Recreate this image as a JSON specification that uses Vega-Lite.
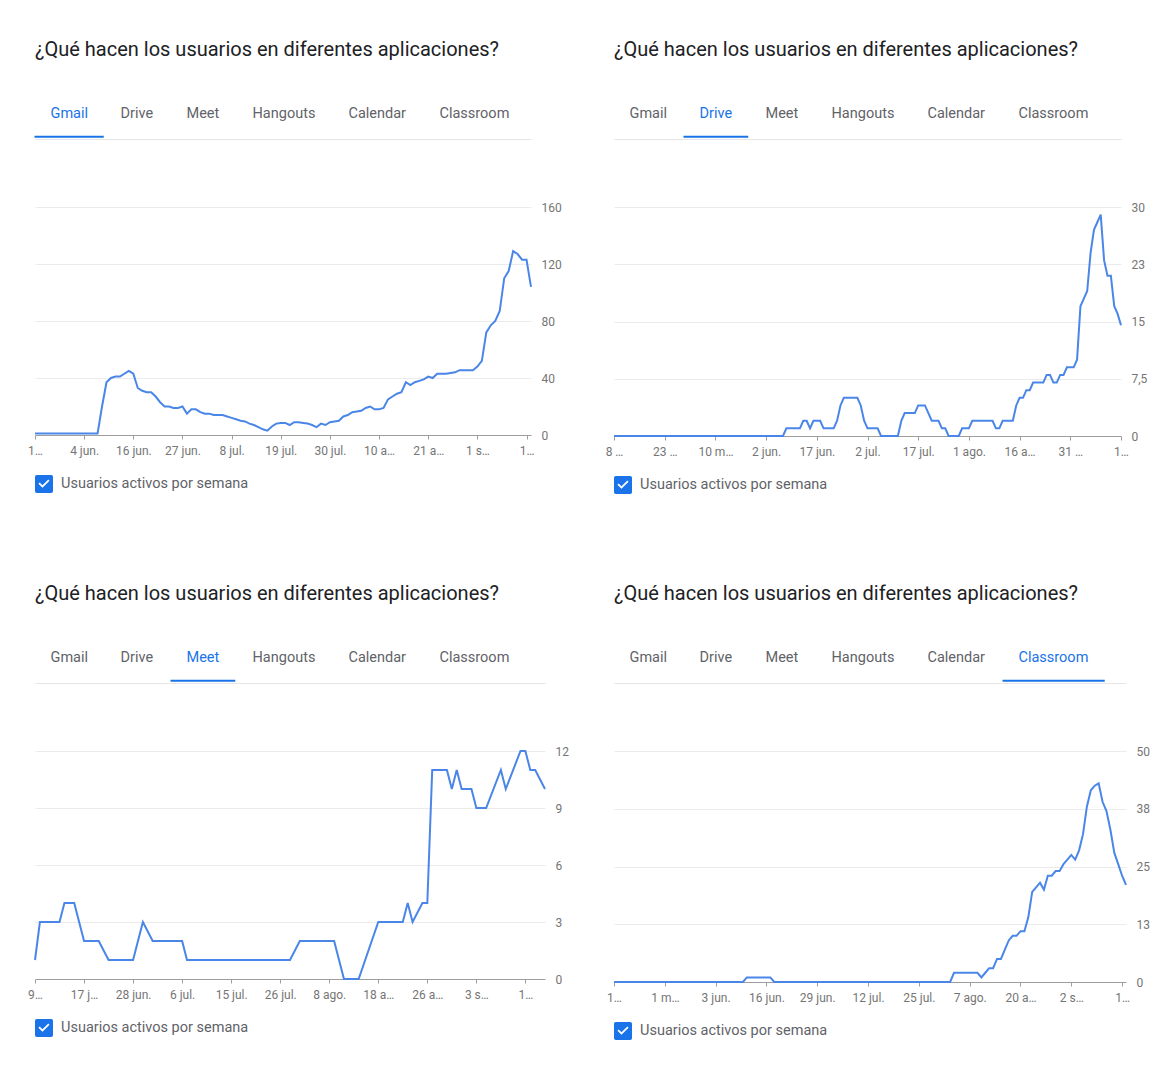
{
  "$schema": "https://vega.github.io/schema/vega-lite/v6.json",
  "background": "white",
  "padding": {"left": 27, "top": 40, "right": 0, "bottom": 0},
  "config": {"view": {"stroke": null}, "font": "Roboto"},
  "datasets": {
    "pestanas": [{"pestana": "Gmail"}, {"pestana": "Drive"}, {"pestana": "Meet"}, {"pestana": "Hangouts"}, {"pestana": "Calendar"}, {"pestana": "Classroom"}],
    "gmail": [
      {"fecha": "2020-05-24", "usuarios": 1}, {"fecha": "2020-06-07", "usuarios": 1}, {"fecha": "2020-06-08", "usuarios": 20}, {"fecha": "2020-06-09", "usuarios": 37},
      {"fecha": "2020-06-10", "usuarios": 40}, {"fecha": "2020-06-11", "usuarios": 41}, {"fecha": "2020-06-12", "usuarios": 41}, {"fecha": "2020-06-13", "usuarios": 43},
      {"fecha": "2020-06-14", "usuarios": 45}, {"fecha": "2020-06-15", "usuarios": 43}, {"fecha": "2020-06-16", "usuarios": 33}, {"fecha": "2020-06-17", "usuarios": 31},
      {"fecha": "2020-06-18", "usuarios": 30}, {"fecha": "2020-06-19", "usuarios": 30}, {"fecha": "2020-06-20", "usuarios": 27}, {"fecha": "2020-06-21", "usuarios": 23},
      {"fecha": "2020-06-22", "usuarios": 20}, {"fecha": "2020-06-23", "usuarios": 20}, {"fecha": "2020-06-24", "usuarios": 19}, {"fecha": "2020-06-25", "usuarios": 19},
      {"fecha": "2020-06-26", "usuarios": 20}, {"fecha": "2020-06-27", "usuarios": 15}, {"fecha": "2020-06-28", "usuarios": 18}, {"fecha": "2020-06-29", "usuarios": 18},
      {"fecha": "2020-06-30", "usuarios": 16}, {"fecha": "2020-07-01", "usuarios": 15}, {"fecha": "2020-07-02", "usuarios": 15}, {"fecha": "2020-07-03", "usuarios": 14},
      {"fecha": "2020-07-05", "usuarios": 14}, {"fecha": "2020-07-06", "usuarios": 13}, {"fecha": "2020-07-07", "usuarios": 12}, {"fecha": "2020-07-08", "usuarios": 11},
      {"fecha": "2020-07-09", "usuarios": 10}, {"fecha": "2020-07-10", "usuarios": 9.5}, {"fecha": "2020-07-11", "usuarios": 8}, {"fecha": "2020-07-12", "usuarios": 7},
      {"fecha": "2020-07-13", "usuarios": 5.5}, {"fecha": "2020-07-14", "usuarios": 4}, {"fecha": "2020-07-15", "usuarios": 3}, {"fecha": "2020-07-16", "usuarios": 6},
      {"fecha": "2020-07-17", "usuarios": 8}, {"fecha": "2020-07-18", "usuarios": 8.5}, {"fecha": "2020-07-19", "usuarios": 8.5}, {"fecha": "2020-07-20", "usuarios": 7},
      {"fecha": "2020-07-21", "usuarios": 9}, {"fecha": "2020-07-22", "usuarios": 9}, {"fecha": "2020-07-23", "usuarios": 8.5}, {"fecha": "2020-07-24", "usuarios": 8},
      {"fecha": "2020-07-25", "usuarios": 7}, {"fecha": "2020-07-26", "usuarios": 5.5}, {"fecha": "2020-07-27", "usuarios": 8}, {"fecha": "2020-07-28", "usuarios": 7},
      {"fecha": "2020-07-29", "usuarios": 9}, {"fecha": "2020-07-30", "usuarios": 9.5}, {"fecha": "2020-07-31", "usuarios": 10}, {"fecha": "2020-08-01", "usuarios": 13},
      {"fecha": "2020-08-02", "usuarios": 14}, {"fecha": "2020-08-03", "usuarios": 16}, {"fecha": "2020-08-04", "usuarios": 16.5}, {"fecha": "2020-08-05", "usuarios": 17},
      {"fecha": "2020-08-06", "usuarios": 19}, {"fecha": "2020-08-07", "usuarios": 20}, {"fecha": "2020-08-08", "usuarios": 18}, {"fecha": "2020-08-09", "usuarios": 18},
      {"fecha": "2020-08-10", "usuarios": 19}, {"fecha": "2020-08-11", "usuarios": 25}, {"fecha": "2020-08-12", "usuarios": 27}, {"fecha": "2020-08-13", "usuarios": 29},
      {"fecha": "2020-08-14", "usuarios": 30}, {"fecha": "2020-08-15", "usuarios": 37}, {"fecha": "2020-08-16", "usuarios": 35}, {"fecha": "2020-08-17", "usuarios": 37},
      {"fecha": "2020-08-18", "usuarios": 38}, {"fecha": "2020-08-19", "usuarios": 39}, {"fecha": "2020-08-20", "usuarios": 41}, {"fecha": "2020-08-21", "usuarios": 40},
      {"fecha": "2020-08-22", "usuarios": 43}, {"fecha": "2020-08-24", "usuarios": 43}, {"fecha": "2020-08-25", "usuarios": 43.5}, {"fecha": "2020-08-26", "usuarios": 44},
      {"fecha": "2020-08-27", "usuarios": 45.5}, {"fecha": "2020-08-30", "usuarios": 45.5}, {"fecha": "2020-08-31", "usuarios": 48}, {"fecha": "2020-09-01", "usuarios": 52},
      {"fecha": "2020-09-02", "usuarios": 72}, {"fecha": "2020-09-03", "usuarios": 77}, {"fecha": "2020-09-04", "usuarios": 80}, {"fecha": "2020-09-05", "usuarios": 87},
      {"fecha": "2020-09-06", "usuarios": 110}, {"fecha": "2020-09-07", "usuarios": 115}, {"fecha": "2020-09-08", "usuarios": 129}, {"fecha": "2020-09-09", "usuarios": 127},
      {"fecha": "2020-09-10", "usuarios": 123}, {"fecha": "2020-09-11", "usuarios": 123}, {"fecha": "2020-09-12", "usuarios": 104}
    ],
    "drive": [
      {"fecha": "2020-04-18", "usuarios": 0}, {"fecha": "2020-06-07", "usuarios": 0}, {"fecha": "2020-06-08", "usuarios": 1}, {"fecha": "2020-06-12", "usuarios": 1},
      {"fecha": "2020-06-13", "usuarios": 2}, {"fecha": "2020-06-14", "usuarios": 2}, {"fecha": "2020-06-15", "usuarios": 1}, {"fecha": "2020-06-16", "usuarios": 2},
      {"fecha": "2020-06-18", "usuarios": 2}, {"fecha": "2020-06-19", "usuarios": 1}, {"fecha": "2020-06-22", "usuarios": 1}, {"fecha": "2020-06-23", "usuarios": 2},
      {"fecha": "2020-06-24", "usuarios": 4}, {"fecha": "2020-06-25", "usuarios": 5}, {"fecha": "2020-06-29", "usuarios": 5}, {"fecha": "2020-06-30", "usuarios": 4},
      {"fecha": "2020-07-01", "usuarios": 2}, {"fecha": "2020-07-02", "usuarios": 1}, {"fecha": "2020-07-05", "usuarios": 1}, {"fecha": "2020-07-06", "usuarios": 0},
      {"fecha": "2020-07-11", "usuarios": 0}, {"fecha": "2020-07-12", "usuarios": 2}, {"fecha": "2020-07-13", "usuarios": 3}, {"fecha": "2020-07-16", "usuarios": 3},
      {"fecha": "2020-07-17", "usuarios": 4}, {"fecha": "2020-07-19", "usuarios": 4}, {"fecha": "2020-07-21", "usuarios": 2}, {"fecha": "2020-07-23", "usuarios": 2},
      {"fecha": "2020-07-24", "usuarios": 1}, {"fecha": "2020-07-25", "usuarios": 1}, {"fecha": "2020-07-26", "usuarios": 0}, {"fecha": "2020-07-29", "usuarios": 0},
      {"fecha": "2020-07-30", "usuarios": 1}, {"fecha": "2020-08-01", "usuarios": 1}, {"fecha": "2020-08-02", "usuarios": 2}, {"fecha": "2020-08-08", "usuarios": 2},
      {"fecha": "2020-08-09", "usuarios": 1}, {"fecha": "2020-08-10", "usuarios": 1}, {"fecha": "2020-08-11", "usuarios": 2}, {"fecha": "2020-08-14", "usuarios": 2},
      {"fecha": "2020-08-15", "usuarios": 4}, {"fecha": "2020-08-16", "usuarios": 5}, {"fecha": "2020-08-17", "usuarios": 5}, {"fecha": "2020-08-18", "usuarios": 6},
      {"fecha": "2020-08-19", "usuarios": 6}, {"fecha": "2020-08-20", "usuarios": 7}, {"fecha": "2020-08-23", "usuarios": 7}, {"fecha": "2020-08-24", "usuarios": 8},
      {"fecha": "2020-08-25", "usuarios": 8}, {"fecha": "2020-08-26", "usuarios": 7}, {"fecha": "2020-08-27", "usuarios": 7}, {"fecha": "2020-08-28", "usuarios": 8},
      {"fecha": "2020-08-29", "usuarios": 8}, {"fecha": "2020-08-30", "usuarios": 9}, {"fecha": "2020-09-01", "usuarios": 9}, {"fecha": "2020-09-02", "usuarios": 10},
      {"fecha": "2020-09-03", "usuarios": 17}, {"fecha": "2020-09-04", "usuarios": 18}, {"fecha": "2020-09-05", "usuarios": 19}, {"fecha": "2020-09-06", "usuarios": 24},
      {"fecha": "2020-09-07", "usuarios": 27}, {"fecha": "2020-09-08", "usuarios": 28}, {"fecha": "2020-09-09", "usuarios": 29}, {"fecha": "2020-09-10", "usuarios": 23},
      {"fecha": "2020-09-11", "usuarios": 21}, {"fecha": "2020-09-12", "usuarios": 21}, {"fecha": "2020-09-13", "usuarios": 17}, {"fecha": "2020-09-14", "usuarios": 16},
      {"fecha": "2020-09-15", "usuarios": 14.5}
    ],
    "meet": [
      {"fecha": "2020-06-09", "usuarios": 1}, {"fecha": "2020-06-10", "usuarios": 3}, {"fecha": "2020-06-14", "usuarios": 3}, {"fecha": "2020-06-15", "usuarios": 4},
      {"fecha": "2020-06-17", "usuarios": 4}, {"fecha": "2020-06-19", "usuarios": 2}, {"fecha": "2020-06-22", "usuarios": 2}, {"fecha": "2020-06-24", "usuarios": 1},
      {"fecha": "2020-06-29", "usuarios": 1}, {"fecha": "2020-07-01", "usuarios": 3}, {"fecha": "2020-07-03", "usuarios": 2}, {"fecha": "2020-07-09", "usuarios": 2},
      {"fecha": "2020-07-10", "usuarios": 1}, {"fecha": "2020-07-31", "usuarios": 1}, {"fecha": "2020-08-02", "usuarios": 2}, {"fecha": "2020-08-09", "usuarios": 2},
      {"fecha": "2020-08-11", "usuarios": 0}, {"fecha": "2020-08-14", "usuarios": 0}, {"fecha": "2020-08-18", "usuarios": 3}, {"fecha": "2020-08-23", "usuarios": 3},
      {"fecha": "2020-08-24", "usuarios": 4}, {"fecha": "2020-08-25", "usuarios": 3}, {"fecha": "2020-08-27", "usuarios": 4}, {"fecha": "2020-08-28", "usuarios": 4},
      {"fecha": "2020-08-29", "usuarios": 11}, {"fecha": "2020-09-01", "usuarios": 11}, {"fecha": "2020-09-02", "usuarios": 10}, {"fecha": "2020-09-03", "usuarios": 11},
      {"fecha": "2020-09-04", "usuarios": 10}, {"fecha": "2020-09-06", "usuarios": 10}, {"fecha": "2020-09-07", "usuarios": 9}, {"fecha": "2020-09-09", "usuarios": 9},
      {"fecha": "2020-09-12", "usuarios": 11}, {"fecha": "2020-09-13", "usuarios": 10}, {"fecha": "2020-09-16", "usuarios": 12}, {"fecha": "2020-09-17", "usuarios": 12},
      {"fecha": "2020-09-18", "usuarios": 11}, {"fecha": "2020-09-19", "usuarios": 11}, {"fecha": "2020-09-21", "usuarios": 10}
    ],
    "classroom": [
      {"fecha": "2020-05-08", "usuarios": 0}, {"fecha": "2020-06-10", "usuarios": 0}, {"fecha": "2020-06-11", "usuarios": 1}, {"fecha": "2020-06-17", "usuarios": 1},
      {"fecha": "2020-06-18", "usuarios": 0}, {"fecha": "2020-08-02", "usuarios": 0}, {"fecha": "2020-08-03", "usuarios": 2}, {"fecha": "2020-08-09", "usuarios": 2},
      {"fecha": "2020-08-10", "usuarios": 1}, {"fecha": "2020-08-11", "usuarios": 2}, {"fecha": "2020-08-12", "usuarios": 3}, {"fecha": "2020-08-13", "usuarios": 3},
      {"fecha": "2020-08-14", "usuarios": 5}, {"fecha": "2020-08-15", "usuarios": 5}, {"fecha": "2020-08-16", "usuarios": 7}, {"fecha": "2020-08-17", "usuarios": 9},
      {"fecha": "2020-08-18", "usuarios": 10}, {"fecha": "2020-08-19", "usuarios": 10}, {"fecha": "2020-08-20", "usuarios": 11}, {"fecha": "2020-08-21", "usuarios": 11},
      {"fecha": "2020-08-22", "usuarios": 14}, {"fecha": "2020-08-23", "usuarios": 19.5}, {"fecha": "2020-08-24", "usuarios": 20.5}, {"fecha": "2020-08-25", "usuarios": 21.5},
      {"fecha": "2020-08-26", "usuarios": 20}, {"fecha": "2020-08-27", "usuarios": 23}, {"fecha": "2020-08-28", "usuarios": 23}, {"fecha": "2020-08-29", "usuarios": 24},
      {"fecha": "2020-08-30", "usuarios": 24}, {"fecha": "2020-08-31", "usuarios": 25.5}, {"fecha": "2020-09-01", "usuarios": 26.5}, {"fecha": "2020-09-02", "usuarios": 27.5},
      {"fecha": "2020-09-03", "usuarios": 26.5}, {"fecha": "2020-09-04", "usuarios": 28.5}, {"fecha": "2020-09-05", "usuarios": 32}, {"fecha": "2020-09-06", "usuarios": 38},
      {"fecha": "2020-09-07", "usuarios": 41.5}, {"fecha": "2020-09-08", "usuarios": 42.5}, {"fecha": "2020-09-09", "usuarios": 43}, {"fecha": "2020-09-10", "usuarios": 39},
      {"fecha": "2020-09-11", "usuarios": 37}, {"fecha": "2020-09-12", "usuarios": 33}, {"fecha": "2020-09-13", "usuarios": 28}, {"fecha": "2020-09-14", "usuarios": 25.5},
      {"fecha": "2020-09-15", "usuarios": 23}, {"fecha": "2020-09-16", "usuarios": 21}
    ]
  },
  "columns": 2,
  "spacing": {"row": 90, "column": 36},
  "resolve": {"scale": {"color": "independent", "shape": "independent", "x": "independent", "y": "independent"}, "legend": {"color": "independent", "shape": "independent"}},
  "concat": [
    {
      "title": {"text": "¿Qué hacen los usuarios en diferentes aplicaciones?", "anchor": "start", "frame": "group", "fontSize": 20, "fontWeight": 400, "font": "Roboto", "color": "#202124", "offset": 46},
      "width": 496, "height": 228,
      "resolve": {"axis": {"x": "independent"}},
      "layer": [
        {
          "data": {"name": "pestanas"},
          "mark": {"type": "point", "opacity": 0, "filled": true, "color": "#1a73e8"},
          "encoding": {"shape": {"field": "pestana", "type": "nominal",
            "scale": {"domain": ["Gmail", "Drive", "Meet", "Hangouts", "Calendar", "Classroom"], "range": ["M-7.75,22H61.5V24H-7.75Z", "M-7.75,22H57V24H-7.75Z", "M-7.75,22H57V24H-7.75Z", "M-7.75,22H87V24H-7.75Z", "M-7.75,22H82V24H-7.75Z", "M-7.75,22H94.5V24H-7.75Z"]},
            "legend": {"orient": "top", "direction": "horizontal", "title": null, "offset": 1, "padding": 0, "symbolSize": 4, "symbolStrokeWidth": 0, "symbolFillColor": "#1a73e8", "symbolOpacity": {"expr": "datum.value === 'Gmail' ? 1 : 0"}, "labelOffset": 1, "columnPadding": 0, "labelFontSize": 14.5, "labelFont": "Roboto", "labelColor": {"expr": "datum.value === 'Gmail' ? '#1a73e8' : '#5f6368'"}, "labelLimit": 300}}}
        },
        {
          "data": {"name": "gmail"},
          "mark": {"type": "line", "strokeWidth": 2, "color": "#4a86e8"},
          "encoding": {
            "x": {"field": "fecha", "type": "temporal", "axis": {"orient": "bottom", "title": null, "grid": false, "domainColor": "#9e9e9e", "tickColor": "#9e9e9e", "tickSize": 4, "labelFontSize": 12, "labelColor": "#757575", "labelPadding": 6, "labelOverlap": false, "labelFlush": false, "labelBound": false,
              "values": [{"year": 2020, "month": 5, "date": 24, "utc": true}, {"year": 2020, "month": 6, "date": 4, "utc": true}, {"year": 2020, "month": 6, "date": 15, "utc": true}, {"year": 2020, "month": 6, "date": 26, "utc": true}, {"year": 2020, "month": 7, "date": 7, "utc": true}, {"year": 2020, "month": 7, "date": 18, "utc": true}, {"year": 2020, "month": 7, "date": 29, "utc": true}, {"year": 2020, "month": 8, "date": 9, "utc": true}, {"year": 2020, "month": 8, "date": 20, "utc": true}, {"year": 2020, "month": 8, "date": 31, "utc": true}, {"year": 2020, "month": 9, "date": 11, "utc": true}],
              "labelExpr": "['1…','4 jun.','16 jun.','27 jun.','8 jul.','19 jul.','30 jul.','10 a…','21 a…','1 s…','1…'][indexof(['05-24','06-04','06-15','06-26','07-07','07-18','07-29','08-09','08-20','08-31','09-11'], utcFormat(datum.value, '%m-%d'))]"}},
            "y": {"field": "usuarios", "type": "quantitative", "scale": {"domain": [0, 160], "nice": false}, "axis": {"orient": "right", "title": null, "values": [0, 40, 80, 120, 160], "grid": true, "gridColor": "#ebebeb", "domain": false, "ticks": false, "labelFontSize": 12, "labelColor": "#757575", "labelPadding": 10}}
          }
        },
        {
          "data": {"name": "gmail"},
          "mark": {"type": "point", "filled": true, "opacity": 0},
          "encoding": {
            "x": {"field": "fecha", "type": "temporal", "axis": {"orient": "top", "offset": 68, "title": null, "labels": false, "ticks": false, "grid": false, "domainColor": "#e6e6e6"}},
            "y": {"field": "usuarios", "type": "quantitative"},
            "color": {"datum": "Usuarios activos por semana", "type": "nominal", "scale": {"range": ["#1a73e8"]},
              "legend": {"orient": "bottom", "direction": "horizontal", "title": null, "offset": 19, "padding": 0, "symbolType": "M-1,-0.8Q-1,-1,-0.8,-1H0.8Q1,-1,1,-0.8V0.8Q1,1,0.8,1H-0.8Q-1,1,-1,0.8ZM-0.62,-0.02L-0.17,0.43L0.62,-0.36L0.48,-0.5L-0.17,0.15L-0.48,-0.16Z", "symbolSize": 324, "symbolStrokeWidth": 0, "symbolOpacity": 1, "labelFontSize": 14.5, "labelFont": "Roboto", "labelColor": "#5f6368", "labelOffset": 8, "labelLimit": 400}}
          }
        }
      ]
    },
    {
      "title": {"text": "¿Qué hacen los usuarios en diferentes aplicaciones?", "anchor": "start", "frame": "group", "fontSize": 20, "fontWeight": 400, "font": "Roboto", "color": "#202124", "offset": 46},
      "width": 507, "height": 229,
      "resolve": {"axis": {"x": "independent"}},
      "layer": [
        {
          "data": {"name": "pestanas"},
          "mark": {"type": "point", "opacity": 0, "filled": true, "color": "#1a73e8"},
          "encoding": {"shape": {"field": "pestana", "type": "nominal",
            "scale": {"domain": ["Gmail", "Drive", "Meet", "Hangouts", "Calendar", "Classroom"], "range": ["M-7.75,22H61.5V24H-7.75Z", "M-7.75,22H57V24H-7.75Z", "M-7.75,22H57V24H-7.75Z", "M-7.75,22H87V24H-7.75Z", "M-7.75,22H82V24H-7.75Z", "M-7.75,22H94.5V24H-7.75Z"]},
            "legend": {"orient": "top", "direction": "horizontal", "title": null, "offset": 1, "padding": 0, "symbolSize": 4, "symbolStrokeWidth": 0, "symbolFillColor": "#1a73e8", "symbolOpacity": {"expr": "datum.value === 'Drive' ? 1 : 0"}, "labelOffset": 1, "columnPadding": 0, "labelFontSize": 14.5, "labelFont": "Roboto", "labelColor": {"expr": "datum.value === 'Drive' ? '#1a73e8' : '#5f6368'"}, "labelLimit": 300}}}
        },
        {
          "data": {"name": "drive"},
          "mark": {"type": "line", "strokeWidth": 2, "color": "#4a86e8"},
          "encoding": {
            "x": {"field": "fecha", "type": "temporal", "axis": {"orient": "bottom", "title": null, "grid": false, "domainColor": "#9e9e9e", "tickColor": "#9e9e9e", "tickSize": 4, "labelFontSize": 12, "labelColor": "#757575", "labelPadding": 6, "labelOverlap": false, "labelFlush": false, "labelBound": false,
              "values": [{"year": 2020, "month": 4, "date": 18, "utc": true}, {"year": 2020, "month": 5, "date": 3, "utc": true}, {"year": 2020, "month": 5, "date": 18, "utc": true}, {"year": 2020, "month": 6, "date": 2, "utc": true}, {"year": 2020, "month": 6, "date": 17, "utc": true}, {"year": 2020, "month": 7, "date": 2, "utc": true}, {"year": 2020, "month": 7, "date": 17, "utc": true}, {"year": 2020, "month": 8, "date": 1, "utc": true}, {"year": 2020, "month": 8, "date": 16, "utc": true}, {"year": 2020, "month": 8, "date": 31, "utc": true}, {"year": 2020, "month": 9, "date": 15, "utc": true}],
              "labelExpr": "['8 …','23 …','10 m…','2 jun.','17 jun.','2 jul.','17 jul.','1 ago.','16 a…','31 …','1…'][indexof(['04-18','05-03','05-18','06-02','06-17','07-02','07-17','08-01','08-16','08-31','09-15'], utcFormat(datum.value, '%m-%d'))]"}},
            "y": {"field": "usuarios", "type": "quantitative", "scale": {"domain": [0, 30], "nice": false}, "axis": {"orient": "right", "title": null, "values": [0, 7.5, 15, 22.5, 30], "labelExpr": "datum.value == 7.5 ? '7,5' : '' + round(datum.value)", "grid": true, "gridColor": "#ebebeb", "domain": false, "ticks": false, "labelFontSize": 12, "labelColor": "#757575", "labelPadding": 10}}
          }
        },
        {
          "data": {"name": "drive"},
          "mark": {"type": "point", "filled": true, "opacity": 0},
          "encoding": {
            "x": {"field": "fecha", "type": "temporal", "axis": {"orient": "top", "offset": 68, "title": null, "labels": false, "ticks": false, "grid": false, "domainColor": "#e6e6e6"}},
            "y": {"field": "usuarios", "type": "quantitative"},
            "color": {"datum": "Usuarios activos por semana", "type": "nominal", "scale": {"range": ["#1a73e8"]},
              "legend": {"orient": "bottom", "direction": "horizontal", "title": null, "offset": 19, "padding": 0, "symbolType": "M-1,-0.8Q-1,-1,-0.8,-1H0.8Q1,-1,1,-0.8V0.8Q1,1,0.8,1H-0.8Q-1,1,-1,0.8ZM-0.62,-0.02L-0.17,0.43L0.62,-0.36L0.48,-0.5L-0.17,0.15L-0.48,-0.16Z", "symbolSize": 324, "symbolStrokeWidth": 0, "symbolOpacity": 1, "labelFontSize": 14.5, "labelFont": "Roboto", "labelColor": "#5f6368", "labelOffset": 8, "labelLimit": 400}}
          }
        }
      ]
    },
    {
      "title": {"text": "¿Qué hacen los usuarios en diferentes aplicaciones?", "anchor": "start", "frame": "group", "fontSize": 20, "fontWeight": 400, "font": "Roboto", "color": "#202124", "offset": 46},
      "width": 510, "height": 228,
      "resolve": {"axis": {"x": "independent"}},
      "layer": [
        {
          "data": {"name": "pestanas"},
          "mark": {"type": "point", "opacity": 0, "filled": true, "color": "#1a73e8"},
          "encoding": {"shape": {"field": "pestana", "type": "nominal",
            "scale": {"domain": ["Gmail", "Drive", "Meet", "Hangouts", "Calendar", "Classroom"], "range": ["M-7.75,22H61.5V24H-7.75Z", "M-7.75,22H57V24H-7.75Z", "M-7.75,22H57V24H-7.75Z", "M-7.75,22H87V24H-7.75Z", "M-7.75,22H82V24H-7.75Z", "M-7.75,22H94.5V24H-7.75Z"]},
            "legend": {"orient": "top", "direction": "horizontal", "title": null, "offset": 1, "padding": 0, "symbolSize": 4, "symbolStrokeWidth": 0, "symbolFillColor": "#1a73e8", "symbolOpacity": {"expr": "datum.value === 'Meet' ? 1 : 0"}, "labelOffset": 1, "columnPadding": 0, "labelFontSize": 14.5, "labelFont": "Roboto", "labelColor": {"expr": "datum.value === 'Meet' ? '#1a73e8' : '#5f6368'"}, "labelLimit": 300}}}
        },
        {
          "data": {"name": "meet"},
          "mark": {"type": "line", "strokeWidth": 2, "color": "#4a86e8"},
          "encoding": {
            "x": {"field": "fecha", "type": "temporal", "axis": {"orient": "bottom", "title": null, "grid": false, "domainColor": "#9e9e9e", "tickColor": "#9e9e9e", "tickSize": 4, "labelFontSize": 12, "labelColor": "#757575", "labelPadding": 6, "labelOverlap": false, "labelFlush": false, "labelBound": false,
              "values": [{"year": 2020, "month": 6, "date": 9, "utc": true}, {"year": 2020, "month": 6, "date": 19, "utc": true}, {"year": 2020, "month": 6, "date": 29, "utc": true}, {"year": 2020, "month": 7, "date": 9, "utc": true}, {"year": 2020, "month": 7, "date": 19, "utc": true}, {"year": 2020, "month": 7, "date": 29, "utc": true}, {"year": 2020, "month": 8, "date": 8, "utc": true}, {"year": 2020, "month": 8, "date": 18, "utc": true}, {"year": 2020, "month": 8, "date": 28, "utc": true}, {"year": 2020, "month": 9, "date": 7, "utc": true}, {"year": 2020, "month": 9, "date": 17, "utc": true}],
              "labelExpr": "['9…','17 j…','28 jun.','6 jul.','15 jul.','26 jul.','8 ago.','18 a…','26 a…','3 s…','1…'][indexof(['06-09','06-19','06-29','07-09','07-19','07-29','08-08','08-18','08-28','09-07','09-17'], utcFormat(datum.value, '%m-%d'))]"}},
            "y": {"field": "usuarios", "type": "quantitative", "scale": {"domain": [0, 12], "nice": false}, "axis": {"orient": "right", "title": null, "values": [0, 3, 6, 9, 12], "grid": true, "gridColor": "#ebebeb", "domain": false, "ticks": false, "labelFontSize": 12, "labelColor": "#757575", "labelPadding": 10}}
          }
        },
        {
          "data": {"name": "meet"},
          "mark": {"type": "point", "filled": true, "opacity": 0},
          "encoding": {
            "x": {"field": "fecha", "type": "temporal", "axis": {"orient": "top", "offset": 68, "title": null, "labels": false, "ticks": false, "grid": false, "domainColor": "#e6e6e6"}},
            "y": {"field": "usuarios", "type": "quantitative"},
            "color": {"datum": "Usuarios activos por semana", "type": "nominal", "scale": {"range": ["#1a73e8"]},
              "legend": {"orient": "bottom", "direction": "horizontal", "title": null, "offset": 19, "padding": 0, "symbolType": "M-1,-0.8Q-1,-1,-0.8,-1H0.8Q1,-1,1,-0.8V0.8Q1,1,0.8,1H-0.8Q-1,1,-1,0.8ZM-0.62,-0.02L-0.17,0.43L0.62,-0.36L0.48,-0.5L-0.17,0.15L-0.48,-0.16Z", "symbolSize": 324, "symbolStrokeWidth": 0, "symbolOpacity": 1, "labelFontSize": 14.5, "labelFont": "Roboto", "labelColor": "#5f6368", "labelOffset": 8, "labelLimit": 400}}
          }
        }
      ]
    },
    {
      "title": {"text": "¿Qué hacen los usuarios en diferentes aplicaciones?", "anchor": "start", "frame": "group", "fontSize": 20, "fontWeight": 400, "font": "Roboto", "color": "#202124", "offset": 46},
      "width": 512, "height": 231,
      "resolve": {"axis": {"x": "independent"}},
      "layer": [
        {
          "data": {"name": "pestanas"},
          "mark": {"type": "point", "opacity": 0, "filled": true, "color": "#1a73e8"},
          "encoding": {"shape": {"field": "pestana", "type": "nominal",
            "scale": {"domain": ["Gmail", "Drive", "Meet", "Hangouts", "Calendar", "Classroom"], "range": ["M-7.75,22H61.5V24H-7.75Z", "M-7.75,22H57V24H-7.75Z", "M-7.75,22H57V24H-7.75Z", "M-7.75,22H87V24H-7.75Z", "M-7.75,22H82V24H-7.75Z", "M-7.75,22H94.5V24H-7.75Z"]},
            "legend": {"orient": "top", "direction": "horizontal", "title": null, "offset": 1, "padding": 0, "symbolSize": 4, "symbolStrokeWidth": 0, "symbolFillColor": "#1a73e8", "symbolOpacity": {"expr": "datum.value === 'Classroom' ? 1 : 0"}, "labelOffset": 1, "columnPadding": 0, "labelFontSize": 14.5, "labelFont": "Roboto", "labelColor": {"expr": "datum.value === 'Classroom' ? '#1a73e8' : '#5f6368'"}, "labelLimit": 300}}}
        },
        {
          "data": {"name": "classroom"},
          "mark": {"type": "line", "strokeWidth": 2, "color": "#4a86e8"},
          "encoding": {
            "x": {"field": "fecha", "type": "temporal", "axis": {"orient": "bottom", "title": null, "grid": false, "domainColor": "#9e9e9e", "tickColor": "#9e9e9e", "tickSize": 4, "labelFontSize": 12, "labelColor": "#757575", "labelPadding": 6, "labelOverlap": false, "labelFlush": false, "labelBound": false,
              "values": [{"year": 2020, "month": 5, "date": 8, "utc": true}, {"year": 2020, "month": 5, "date": 21, "utc": true}, {"year": 2020, "month": 6, "date": 3, "utc": true}, {"year": 2020, "month": 6, "date": 16, "utc": true}, {"year": 2020, "month": 6, "date": 29, "utc": true}, {"year": 2020, "month": 7, "date": 12, "utc": true}, {"year": 2020, "month": 7, "date": 25, "utc": true}, {"year": 2020, "month": 8, "date": 7, "utc": true}, {"year": 2020, "month": 8, "date": 20, "utc": true}, {"year": 2020, "month": 9, "date": 2, "utc": true}, {"year": 2020, "month": 9, "date": 15, "utc": true}],
              "labelExpr": "['1…','1 m…','3 jun.','16 jun.','29 jun.','12 jul.','25 jul.','7 ago.','20 a…','2 s…','1…'][indexof(['05-08','05-21','06-03','06-16','06-29','07-12','07-25','08-07','08-20','09-02','09-15'], utcFormat(datum.value, '%m-%d'))]"}},
            "y": {"field": "usuarios", "type": "quantitative", "scale": {"domain": [0, 50], "nice": false}, "axis": {"orient": "right", "title": null, "values": [0, 12.5, 25, 37.5, 50], "labelExpr": "'' + round(datum.value)", "grid": true, "gridColor": "#ebebeb", "domain": false, "ticks": false, "labelFontSize": 12, "labelColor": "#757575", "labelPadding": 10}}
          }
        },
        {
          "data": {"name": "classroom"},
          "mark": {"type": "point", "filled": true, "opacity": 0},
          "encoding": {
            "x": {"field": "fecha", "type": "temporal", "axis": {"orient": "top", "offset": 68, "title": null, "labels": false, "ticks": false, "grid": false, "domainColor": "#e6e6e6"}},
            "y": {"field": "usuarios", "type": "quantitative"},
            "color": {"datum": "Usuarios activos por semana", "type": "nominal", "scale": {"range": ["#1a73e8"]},
              "legend": {"orient": "bottom", "direction": "horizontal", "title": null, "offset": 19, "padding": 0, "symbolType": "M-1,-0.8Q-1,-1,-0.8,-1H0.8Q1,-1,1,-0.8V0.8Q1,1,0.8,1H-0.8Q-1,1,-1,0.8ZM-0.62,-0.02L-0.17,0.43L0.62,-0.36L0.48,-0.5L-0.17,0.15L-0.48,-0.16Z", "symbolSize": 324, "symbolStrokeWidth": 0, "symbolOpacity": 1, "labelFontSize": 14.5, "labelFont": "Roboto", "labelColor": "#5f6368", "labelOffset": 8, "labelLimit": 400}}
          }
        }
      ]
    }
  ]
}
